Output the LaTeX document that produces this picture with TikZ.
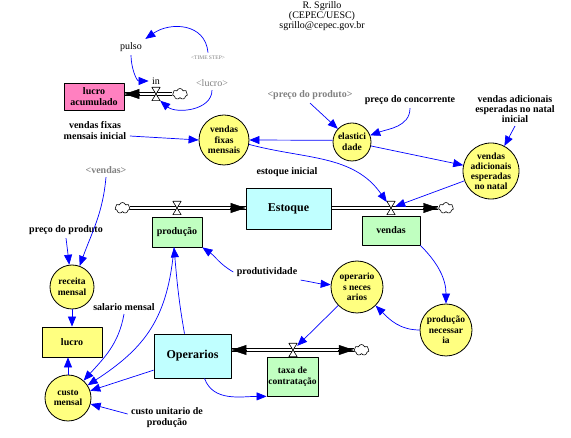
\documentclass[tikz,border=0pt]{standalone}
\usepackage{fontspec}
\setmainfont{Liberation Serif}
\usetikzlibrary{arrows.meta,shapes.symbols,calc}
\definecolor{auxyellow}{HTML}{FFFF80}
\definecolor{stockcyan}{HTML}{C0FFFF}
\definecolor{rategreen}{HTML}{C0FFC0}
\definecolor{stockpink}{HTML}{FF80C0}
\definecolor{ghostgray}{HTML}{808080}
\definecolor{linkblue}{HTML}{0000FF}
\begin{document}
\begin{tikzpicture}[x=1pt, y=1pt, line join=round, >={Triangle[length=10pt,width=8pt]},
    font=\fontsize{10}{11}\selectfont\bfseries,
    aux/.style={circle, draw, line width=0.8pt, fill=auxyellow, inner sep=-4pt, align=center, font=\fontsize{9.5}{10.5}\selectfont\bfseries},
    stock/.style={rectangle, draw, line width=0.8pt, fill=stockcyan, inner sep=0pt, align=center},
    rate/.style={rectangle, draw, line width=0.8pt, fill=rategreen, inner sep=0pt, align=center},
    ghost/.style={text=ghostgray},
    plain/.style={font=\fontsize{10}{11}\selectfont},
    valve/.style={rectangle, inner sep=0pt, minimum width=8pt, minimum height=13pt},
    cloudy/.style={cloud, cloud puffs=7, draw, line width=0.6pt, fill=white, inner sep=0pt, minimum width=15pt, minimum height=11pt, aspect=1.4},
    pipeline/.style={draw=black, line width=0.8pt},
    flowtip/.style={-{Triangle[length=15pt,width=10pt]}, line width=0.4pt},
    link/.style={->, draw=linkblue, line width=0.7pt}]
  \useasboundingbox (0,0) rectangle (571,-438);
  \node[plain, align=center, font=\fontsize{10}{10}\selectfont] (hdr) at (322,-16) {R. Sgrillo\\(CEPEC/UESC)\\sgrillo@cepec.gov.br};
  % lucro acumulado
  \node[plain] (pulso) at (131,-47) {pulso};
  \node[ghost, font=\fontsize{5.5}{6}\selectfont] (timestep) at (208,-58) {\textless TIME STEP\textgreater};
  \node[plain] (inlbl) at (156,-81) {in};
  \node[stock, fill=stockpink, minimum width=60pt, minimum height=27pt] (lucroacum) at (94,-96.5) {lucro\\acumulado};
  \node[valve] (vin) at (156,-94) {};
  \node[cloudy] (cin) at (180,-94) {};
  \node[ghost, plain] (lucroshadow) at (212,-83) {\textless lucro\textgreater};
  % vendas
  \node[ghost] (precoshadow) at (310,-95) {\textless preço do produto\textgreater};
  \node (concorrente) at (410,-100) {preço do concorrente};
  \node[align=center, font=\fontsize{10}{10}\selectfont\bfseries] (natalini) at (515,-109) {vendas adicionais\\esperadas no natal\\inicial};
  \node[align=center] (vfmi) at (95,-131) {vendas fixas\\mensais inicial};
  \node[aux, minimum size=50pt] (vfm) at (224,-140) {vendas\\fixas\\mensais};
  \node[aux, minimum size=38pt] (elast) at (352,-142) {elastici\\dade};
  \node[aux, minimum size=56pt, font=\fontsize{9.5}{10}\selectfont\bfseries] (natal) at (491,-171) {vendas\\adicionais\\esperadas\\no natal};
  \node[ghost] (vendshadow) at (106,-170) {\textless vendas\textgreater};
  \node (estini) at (287,-172) {estoque inicial};
  \node[stock, minimum width=85pt, minimum height=41pt, font=\fontsize{12}{14}\selectfont\bfseries] (estoque) at (288.5,-208.5) {Estoque};
  \node[cloudy] (cest) at (122.5,-208) {};
  \node[valve] (vprod) at (177,-208) {};
  \node[rate, minimum width=50pt, minimum height=30pt] (producao) at (177,-232) {produção};
  \node[valve] (vvend) at (391,-208) {};
  \node[rate, minimum width=58pt, minimum height=29pt] (vendas) at (391,-230.5) {vendas};
  \node[cloudy] (cvend) at (446,-208) {};
  % producao e custos
  \node (precoprod) at (66,-230) {preço do produto};
  \node (produt) at (267,-272) {produtividade};
  \node[aux, minimum size=52pt] (opnec) at (357,-287) {operario\\s neces\\arios};
  \node[aux, minimum size=44pt] (receita) at (72,-287) {receita\\mensal};
  \node (salario) at (124,-307) {salario mensal};
  \node[aux, minimum size=52pt] (prodnec) at (446,-330) {produção\\necessar\\ia};
  \node[stock, fill=auxyellow, minimum width=60pt, minimum height=30pt] (lucro) at (72,-342) {lucro};
  \node[valve] (vtaxa) at (293,-350) {};
  \node[cloudy] (ctaxa) at (361.5,-350) {};
  \node[stock, minimum width=77pt, minimum height=44pt, font=\fontsize{12}{14}\selectfont\bfseries] (operarios) at (192.5,-356) {Operarios};
  \node[rate, minimum width=51pt, minimum height=39pt, font=\fontsize{9.5}{11}\selectfont\bfseries] (taxa) at (292.5,-376.5) {taxa de\\contratação};
  \node[aux, minimum size=46pt] (custo) at (68,-398) {custo\\mensal};
  \node[align=center] (custounit) at (167,-418) {custo unitario de\\produção};
  % fluxos
  \foreach \s in {1.8pt,-1.8pt} {
    \draw[pipeline, transform canvas={yshift=\s}] (vin -| cin.west) -- (vin -| lucroacum.east);
    \draw[pipeline, transform canvas={yshift=\s}] (cest.east) -- (cest.east -| estoque.west);
    \draw[pipeline, transform canvas={yshift=\s}] (estoque.east |- vvend) -- (vvend -| cvend.west);
    \draw[pipeline, transform canvas={yshift=\s}] (vtaxa -| operarios.east) -- (vtaxa -| ctaxa.west);
  }
  \foreach \v in {vin,vprod,vvend,vtaxa}
    \draw[line width=0.6pt, fill=white] (\v.north west) -- (\v.north east) -- (\v.south west) -- (\v.south east) -- cycle;
  \draw[flowtip] ($(vin -| lucroacum.east)+(15.5,0)$) -- (vin -| lucroacum.east);
  \draw[flowtip] ($(cest.east -| estoque.west)+(-15.5,0)$) -- (cest.east -| estoque.west);
  \draw[flowtip] ($(vvend -| cvend.west)+(-15.5,0)$) -- (vvend -| cvend.west);
  \draw[flowtip] ($(vtaxa -| operarios.east)+(15.5,0)$) -- (vtaxa -| operarios.east);
  \draw[flowtip] ($(vtaxa -| ctaxa.west)+(-15.5,0)$) -- (vtaxa -| ctaxa.west);
  % conectores
  \draw[link] (timestep.north) to[out=95,in=35,looseness=1.2] (pulso.north east);
  \draw[link] (pulso.south) to[out=-90,in=180] (inlbl.west);
  \draw[link] (lucroshadow.south) to[out=-90,in=-40] (vin.south east);
  \draw[link] ([yshift=-5pt]vfmi.east) -- (vfm.west);
  \draw[link] (elast.175) -- (vfm.east);
  \draw[link] (precoshadow.south) -- (elast);
  \draw[link] (concorrente.south) to[out=-90,in=20] (elast);
  \draw[link] (natalini.south) -- (natal);
  \draw[link] (elast) -- (natal);
  \draw[link] (natal) -- (vvend);
  \draw[link] (vfm.-10) to[out=-15,in=125] (vvend);
  \draw[link] (vendas.south east) to[out=-45,in=90] (prodnec);
  \draw[link] (prodnec.west) to[out=180,in=-45] (opnec);
  \draw[link] (opnec) -- (vtaxa);
  \draw[link] (produt.south east) to[out=-10,in=175] (opnec);
  \draw[link] (produt.west) to[out=150,in=-35] (producao.south east);
  \draw[link] ([xshift=-8pt]operarios.north) to[out=100,in=-85] ([xshift=-3pt]producao.south);
  \draw[link] ([xshift=-3pt]producao.south) to[out=-95,in=33,looseness=1.1] (custo);
  \draw[link] (operarios.200) -- (custo);
  \draw[link] (salario.south) to[out=-100,in=48] (custo);
  \draw[link] ([yshift=4pt]custounit.west) -- (custo);
  \draw[link] (custo) -- (custo |- lucro.south);
  \draw[link] (receita) -- (lucro);
  \draw[link] (precoprod.south) -- (receita);
  \draw[link] (vendshadow.south) to[out=-95,in=70] (receita);
  \draw[link] ([xshift=12pt]operarios.south) to[out=-70,in=180] (taxa.south west);
\end{tikzpicture}
\end{document}
